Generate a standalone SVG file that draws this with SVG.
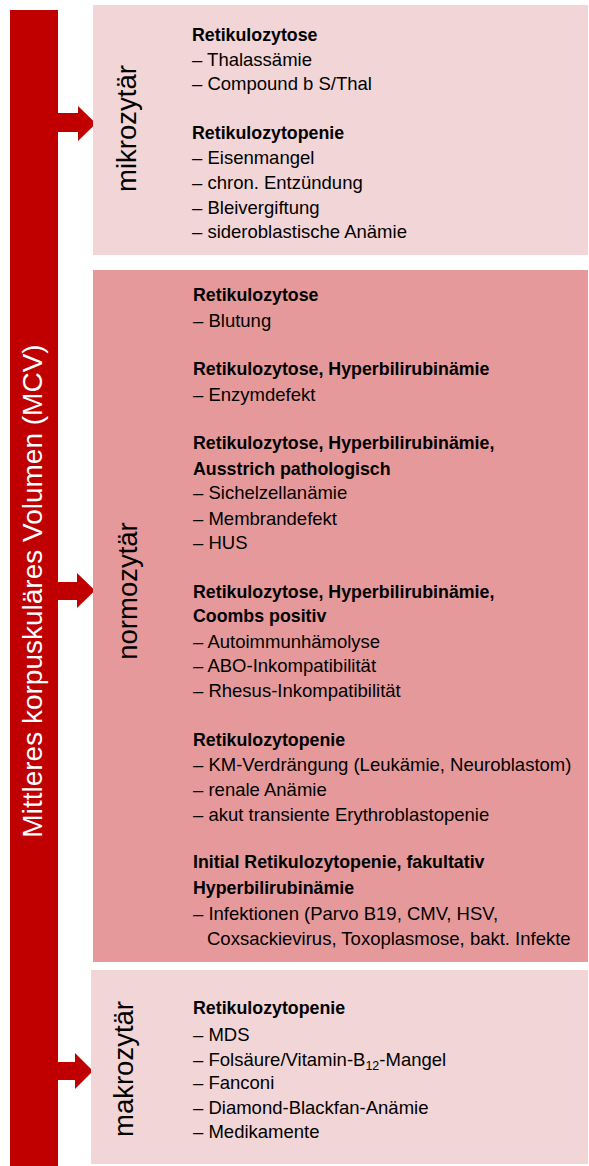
<svg xmlns="http://www.w3.org/2000/svg" width="589" height="1166" viewBox="0 0 589 1166">
<style>
.r{font-family:"Liberation Sans",Arial,sans-serif;font-size:18.5px;fill:#000}
.b{font-family:"Liberation Sans",Arial,sans-serif;font-size:17.8px;font-weight:bold;fill:#000}
.v{font-family:"Liberation Sans",Arial,sans-serif;font-size:27.5px;fill:#000}
.vw{font-family:"Liberation Sans",Arial,sans-serif;font-size:28px;fill:#fff}
.arr{fill:#C00000}
</style>
<rect width="589" height="1166" fill="#fff"/>
<g id="mcv-bar">
<rect x="10" y="10" width="48" height="1156" fill="#C00000"/>
<text class="vw" transform="translate(42,591) rotate(-90)" text-anchor="middle">Mittleres korpuskuläres Volumen (MCV)</text>
</g>
<g id="connectors">
<polygon class="arr" points="58,113 78,113 78,106 96,123.5 78,141 78,132 58,132"/>
<polygon class="arr" points="58,582 77,582 77,573 95,590.5 77,608 77,600 58,600"/>
<polygon class="arr" points="58,1062 75,1062 75,1053 93,1071 75,1089 75,1080 58,1080"/>
</g>
<g id="mikrozytaer">
<rect x="93" y="5" width="495" height="250" fill="#F2D5D6"/>
<text class="v" transform="translate(136,128.5) rotate(-90)" text-anchor="middle">mikrozytär</text>
<text class="b" x="192" y="40.7">Retikulozytose</text>
<text class="r" x="192" y="65.7">– Thalassämie</text>
<text class="r" x="192" y="90">– Compound b S/Thal</text>
<text class="b" x="192" y="139">Retikulozytopenie</text>
<text class="r" x="192" y="164">– Eisenmangel</text>
<text class="r" x="192" y="188.7">– chron. Entzündung</text>
<text class="r" x="192" y="214">– Bleivergiftung</text>
<text class="r" x="192" y="238">– sideroblastische Anämie</text>
</g>
<g id="normozytaer">
<rect x="93" y="270" width="495" height="692" fill="#E6999A"/>
<text class="v" transform="translate(137,591) rotate(-90)" text-anchor="middle">normozytär</text>
<text class="b" x="193" y="300.7">Retikulozytose</text>
<text class="r" x="193" y="326.7">– Blutung</text>
<text class="b" x="193" y="375">Retikulozytose, Hyperbilirubinämie</text>
<text class="r" x="193" y="400.7">– Enzymdefekt</text>
<text class="b" x="193" y="449.3">Retikulozytose, Hyperbilirubinämie,</text>
<text class="b" x="193" y="475">Ausstrich pathologisch</text>
<text class="r" x="193" y="499.3">– Sichelzellanämie</text>
<text class="r" x="193" y="525">– Membrandefekt</text>
<text class="r" x="193" y="549">– HUS</text>
<text class="b" x="193" y="598.3">Retikulozytose, Hyperbilirubinämie,</text>
<text class="b" x="193" y="621.7">Coombs positiv</text>
<text class="r" x="193" y="647.7">– Autoimmunhämolyse</text>
<text class="r" x="193" y="672.3">– ABO-Inkompatibilität</text>
<text class="r" x="193" y="697.3">– Rhesus-Inkompatibilität</text>
<text class="b" x="193" y="746">Retikulozytopenie</text>
<text class="r" x="193" y="771">– KM-Verdrängung (Leukämie, Neuroblastom)</text>
<text class="r" x="193" y="795.7">– renale Anämie</text>
<text class="r" x="193" y="821">– akut transiente Erythroblastopenie</text>
<text class="b" x="193" y="868.3">Initial Retikulozytopenie, fakultativ</text>
<text class="b" x="193" y="894.3">Hyperbilirubinämie</text>
<text class="r" x="193" y="920">– Infektionen (Parvo B19, CMV, HSV,</text>
<text class="r" x="207" y="945">Coxsackievirus, Toxoplasmose, bakt. Infekte</text>
</g>
<g id="makrozytaer">
<rect x="91" y="970" width="497" height="194" fill="#F2D5D6"/>
<text class="v" transform="translate(133,1069) rotate(-90)" text-anchor="middle">makrozytär</text>
<text class="b" x="193" y="1014">Retikulozytopenie</text>
<text class="r" x="193" y="1040.7">– MDS</text>
<text class="r" x="193" y="1065.7">– Folsäure/Vitamin-B<tspan font-size="12.5px" dy="4">12</tspan><tspan dy="-4">-Mangel</tspan></text>
<text class="r" x="193" y="1089">– Fanconi</text>
<text class="r" x="193" y="1114">– Diamond-Blackfan-Anämie</text>
<text class="r" x="193" y="1137.7">– Medikamente</text>
</g>
</svg>
